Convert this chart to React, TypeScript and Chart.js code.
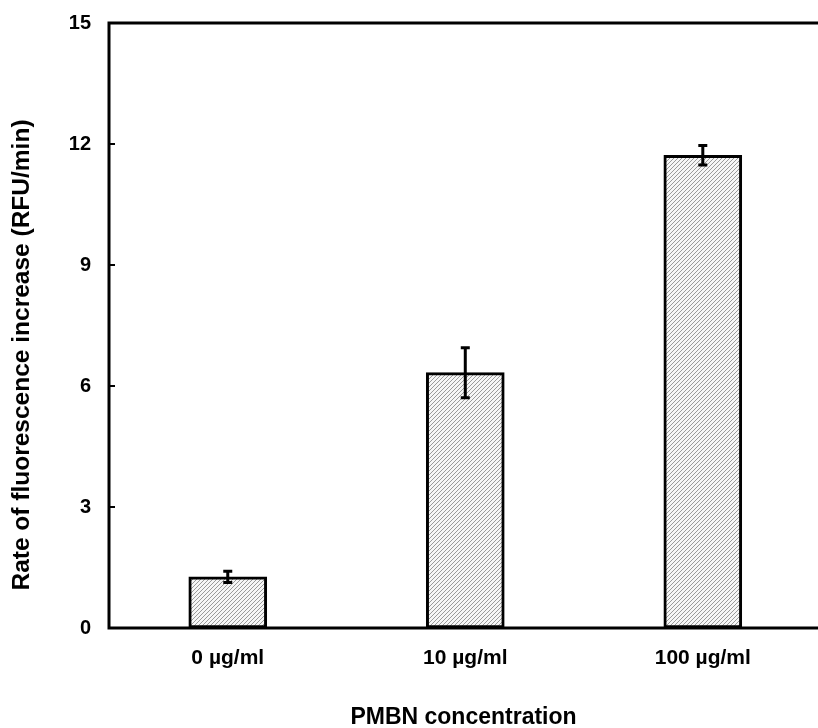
import React, { useEffect, useRef } from "react";
import { Chart, registerables } from "chart.js";

Chart.register(...registerables);

const categories = ["0 µg/ml", "10 µg/ml", "100 µg/ml"];
const values = [1.27, 6.33, 11.72];
const errors = [0.14, 0.62, 0.24];
const yTicks = [0, 3, 6, 9, 12, 15];
const xTitle = "PMBN concentration";
const yTitle = "Rate of fluorescence increase (RFU/min)";

const FONT = "'Liberation Sans', Arial, Helvetica, sans-serif";

function makePattern(): CanvasPattern | string {
  const c = document.createElement("canvas");
  c.width = 4;
  c.height = 4;
  const g = c.getContext("2d");
  if (!g) return "#ccc";
  g.fillStyle = "#f6f6f6";
  g.fillRect(0, 0, 4, 4);
  g.strokeStyle = "#9a9a9a";
  g.lineWidth = 1;
  g.beginPath();
  g.moveTo(0, 4);
  g.lineTo(4, 0);
  g.moveTo(-1, 1);
  g.lineTo(1, -1);
  g.moveTo(3, 5);
  g.lineTo(5, 3);
  g.stroke();
  const p = g.createPattern(c, "repeat");
  return p || "#ccc";
}

const framePlugin = {
  id: "frameAndErrors",
  afterDatasetsDraw(chart: any) {
    const ctx = chart.ctx;
    const { left, right, top, bottom } = chart.chartArea;
    const ys = chart.scales.y;
    const xs = chart.scales.x;
    ctx.save();
    ctx.strokeStyle = "#000";
    ctx.lineWidth = 3;
    values.forEach((v, i) => {
      const x = xs.getPixelForValue(i);
      const yt = ys.getPixelForValue(v + errors[i]);
      const yb = ys.getPixelForValue(v - errors[i]);
      ctx.beginPath();
      ctx.moveTo(x, yt);
      ctx.lineTo(x, yb);
      ctx.moveTo(x - 4.5, yt);
      ctx.lineTo(x + 4.5, yt);
      ctx.moveTo(x - 4.5, yb);
      ctx.lineTo(x + 4.5, yb);
      ctx.stroke();
    });
    ctx.lineWidth = 3;
    ctx.beginPath();
    ctx.moveTo(right + 2, top);
    ctx.lineTo(left, top);
    ctx.lineTo(left, bottom);
    ctx.lineTo(right + 2, bottom);
    ctx.stroke();
    ctx.lineWidth = 2;
    yTicks.forEach((t) => {
      const y = ys.getPixelForValue(t);
      ctx.beginPath();
      ctx.moveTo(left, y);
      ctx.lineTo(left + 6, y);
      ctx.stroke();
    });
    ctx.translate(22, 355);
    ctx.rotate(-Math.PI / 2);
    ctx.fillStyle = "#000";
    ctx.font = `bold 24.5px ${FONT}`;
    ctx.textAlign = "center";
    ctx.textBaseline = "middle";
    ctx.fillText(yTitle, 0, 0);
    ctx.restore();
  },
};

export default function App() {
  const ref = useRef<HTMLCanvasElement | null>(null);
  useEffect(() => {
    if (!ref.current) return;
    const chart = new Chart(ref.current, {
      type: "bar",
      data: {
        datasets: [
          {
            data: values.map((v, i) => ({ x: i, y: v })) as any,
            backgroundColor: makePattern() as any,
            borderColor: "#000",
            borderWidth: 3,
            borderSkipped: false,
            barThickness: 78,
          },
        ],
      },
      options: {
        animation: false,
        responsive: false,
        maintainAspectRatio: false,
        layout: { padding: { left: 0, right: 0, top: 23, bottom: 0 } },
        plugins: { legend: { display: false }, tooltip: { enabled: false } },
        scales: {
          x: {
            type: "linear",
            offset: false,
            min: -0.5,
            max: 2.485,
            afterBuildTicks: (s: any) => {
              s.ticks = categories.map((_, i) => ({ value: i }));
            },
            afterFit: (s: any) => {
              s.height = 100;
              s.paddingLeft = 0;
              s.paddingRight = 0;
            },
            grid: { display: false, drawTicks: false },
            border: { display: false },
            ticks: {
              color: "#000",
              font: { family: FONT, size: 21, weight: "bold" },
              padding: 18,
              autoSkip: false,
              maxRotation: 0,
              callback: (v: any) => categories[v as number] ?? "",
            },
            title: {
              display: true,
              text: xTitle,
              color: "#000",
              font: { family: FONT, size: 23, weight: "bold" },
              padding: { top: 0, bottom: -3 },
            },
          },
          y: {
            min: 0,
            max: 15,
            afterBuildTicks: (s: any) => {
              s.ticks = yTicks.map((v) => ({ value: v }));
            },
            afterFit: (s: any) => {
              s.width = 109;
              s.paddingTop = 0;
              s.paddingBottom = 0;
            },
            grid: { display: false, drawTicks: false },
            border: { display: false },
            ticks: {
              color: "#000",
              font: { family: FONT, size: 20, weight: "bold" },
              padding: 18,
            },
            title: { display: false },
          },
        },
      },
      plugins: [framePlugin],
    });
    return () => chart.destroy();
  }, []);
  return (
    <div style={{ position: "absolute", left: 0, top: 0, width: 818, height: 728, background: "#fff" }}>
      <canvas ref={ref} width={818} height={728} style={{ display: "block" }} />
    </div>
  );
}
